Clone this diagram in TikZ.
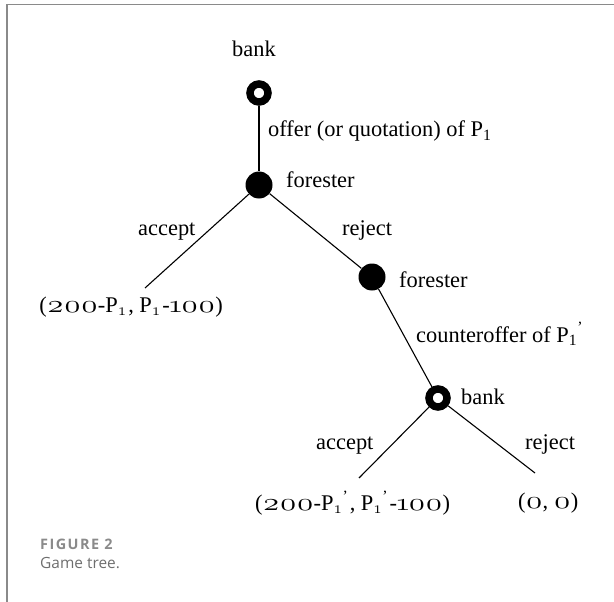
\documentclass[tikz,border=0pt]{standalone}
\usepackage{amsmath}
\usepackage{graphicx}
\usepackage{fontspec}
\setmainfont{Liberation Serif}
\newfontfamily\capfont{Open Sans}
\newfontfamily\capfontsp[LetterSpace=10]{Open Sans}
\newcommand\osd[1]{\scalebox{1.3}[1]{\fontsize{27.5}{28}\usefont{OML}{lmm}{m}{it}#1}}
\newcommand\dz{\makebox[17bp][c]{\osd{0}}}
\newcommand\dt{\makebox[17bp][c]{\osd{2}}}
\newcommand\du{\makebox[11.5bp][c]{\osd{1}}}
\newcommand\Pa{P$_{\text{1}}$}
\newcommand\Pb{P$_{\text{1}}$\raisebox{0.2ex}{\textsuperscript{'}}}
\newcommand\Pc{P$_{\text{\fontsize{16}{17}\usefont{OML}{lmm}{m}{it}1}}$\kern1.5bp}
\newcommand\Pd{P$_{\text{\fontsize{16}{17}\usefont{OML}{lmm}{m}{it}1}}$\raisebox{0.2ex}{\textsuperscript{'}}\kern1.5bp}
\definecolor{framegray}{HTML}{8A8A8A}
\definecolor{capgray}{HTML}{6E6E6E}
\tikzset{
  lbl/.style={font=\fontsize{22.5}{26}\selectfont, inner sep=0pt, anchor=base west},
  pay/.style={font=\fontsize{22.5}{26}\selectfont, inner sep=0pt},
  opennode/.style={circle, draw=black, fill=white, line width=7.5bp, inner sep=0pt, minimum size=18bp},
  filled/.style={circle, fill=black, inner sep=0pt, minimum size=27bp},
  edge/.style={line width=1.1bp, black},
}
\begin{document}
\begin{tikzpicture}[x=1bp,y=-1bp]
\useasboundingbox (0,0) rectangle (614,602);
\draw[framegray, line width=1.2bp] (7,602) -- (7,4.7) -- (614,4.7);
% nodes
\node[opennode] (root) at (259,93) {};
\node[filled] (f1) at (259,185) {};
\node[filled] (f2) at (372,277) {};
\node[opennode] (b2) at (438,398) {};
\coordinate (l1) at (145,288);
\coordinate (l2) at (359,478);
\coordinate (l3) at (535,473);
% edges
\draw[edge] (root) -- (f1);
\draw[edge] (f1) -- (l1);
\draw[edge] (f1) -- (f2);
\draw[edge] (f2) -- (b2);
\draw[edge] (b2) -- (l2);
\draw[edge] (b2) -- (l3);
% labels
\node[lbl] (tb) at (232,57) {bank};
\node[lbl] (offer) at (268,137) {offer (or quotation) of \Pa};
\node[lbl] (fl1) at (286,187) {forester};
\node[lbl] (acc1) at (138,235) {accept};
\node[lbl] (rej1) at (342,235) {reject};
\node[lbl] (fl2) at (399,287) {forester};
\node[lbl] (co) at (416,342) {counteroffer of \Pb};
\node[lbl] (bl2) at (461,404) {bank};
\node[lbl] (acc2) at (316,449) {accept};
\node[lbl] (rej2) at (525,449) {reject};
% payoffs
\node[pay, anchor=east] (p1) at (223,307) {(\dt\dz\dz-\Pc, \Pc-\du\dz\dz)};
\node[pay, anchor=west] (p2) at (255,503) {(\dt\dz\dz-\Pd, \Pd-\du\dz\dz)};
\node[pay, anchor=west] (p3) at (518,503) {(\dz, \dz)};
% caption
\node[font=\capfontsp\bfseries\fontsize{14.5}{16}\selectfont, text=framegray, inner sep=0pt, anchor=west] (fig) at (40,544) {FIGURE 2};
\node[font=\capfont\fontsize{15.5}{18}\selectfont, text=capgray, inner sep=0pt, anchor=west] (cap) at (40,563) {Game tree.};
\end{tikzpicture}
\end{document}
